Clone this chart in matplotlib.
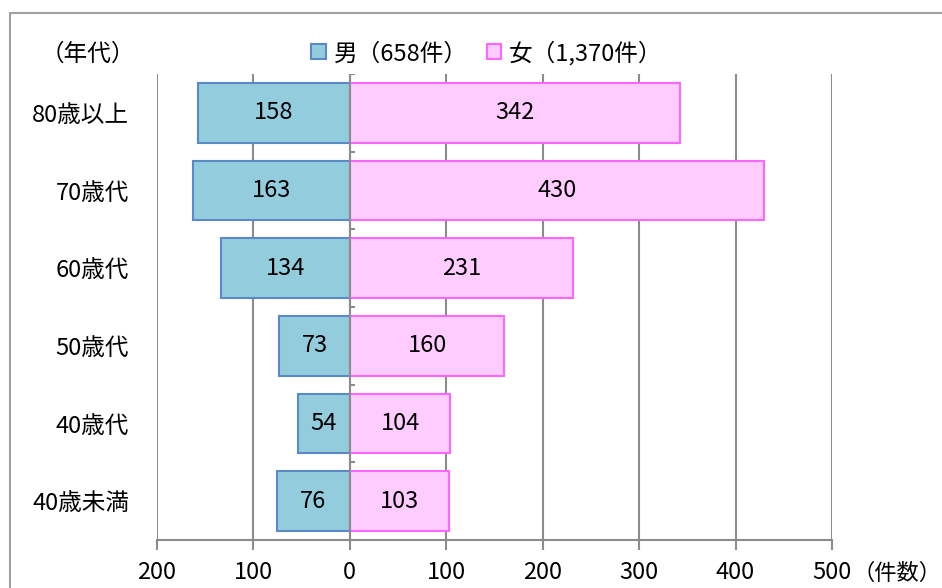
import matplotlib.pyplot as plt
import numpy as np
from matplotlib.patches import Rectangle
from matplotlib.ticker import FuncFormatter

plt.rcParams['font.family'] = ['Noto Sans CJK JP', 'DejaVu Sans']

ages = ['80歳以上', '70歳代', '60歳代', '50歳代', '40歳代', '40歳未満']
male = [158, 163, 134, 73, 54, 76]
female = [342, 430, 231, 160, 104, 103]
male_label = '男（658件）'
female_label = '女（1,370件）'

grid_col = '#8c8c8c'
fs = 17

fig = plt.figure(figsize=(9.42, 5.88), dpi=100)
ax = fig.add_axes([0.1667, 0.0816, 0.7165, 0.7925])

y = np.arange(len(ages))[::-1]
m_bars = ax.barh(y, -np.array(male), height=0.77, color='#93cddd',
                 edgecolor='#5a8ac6', linewidth=1.5, label=male_label, zorder=3)
f_bars = ax.barh(y, female, height=0.77, color='#ffccff',
                 edgecolor='#ff66ff', linewidth=1.5, label=female_label, zorder=3)

for yy, v in zip(y, male):
    ax.text(-v / 2, yy, str(v), ha='center', va='center', fontsize=fs, zorder=4)
for yy, v in zip(y, female):
    ax.text(v / 2, yy, str(v), ha='center', va='center', fontsize=fs, zorder=4)

ax.set_xlim(-200, 500)
ax.set_ylim(-0.5, len(ages) - 0.5)
ax.set_xticks(np.arange(-200, 501, 100))
ax.xaxis.set_major_formatter(FuncFormatter(lambda v, p: f'{abs(int(v))}'))
ax.set_yticks(y)
ax.set_yticklabels(ages)
ax.tick_params(axis='y', length=0, pad=20, labelsize=fs)
ax.tick_params(axis='x', length=7, width=1.5, color=grid_col, pad=8, labelsize=fs)
ax.xaxis.grid(True, color=grid_col, linewidth=1.5, zorder=0)
for s in ['top', 'right', 'left']:
    ax.spines[s].set_visible(False)
ax.spines['bottom'].set_color(grid_col)
ax.spines['bottom'].set_linewidth(1.5)

# center axis with small category ticks
ax.axvline(0, color=grid_col, linewidth=1.5, zorder=5)
bounds = np.arange(len(ages) + 1) - 0.5
ax.hlines(bounds, 0, 5, color=grid_col, linewidth=1.5, zorder=5)

fig.text(88 / 942, 1 - 54 / 588, '（年代）', ha='center', va='center', fontsize=fs)
fig.text(941 / 942, 1 - 573 / 588, '（件数）', ha='right', va='center', fontsize=16)

fig.legend(handles=[m_bars, f_bars], loc='center', bbox_to_anchor=(487 / 942, 1 - 53 / 588),
           ncol=2, frameon=False, fontsize=fs, handlelength=0.6, handleheight=0.6,
           handletextpad=0.35, columnspacing=0.8, borderpad=0.1)

fig.patches.append(Rectangle((10 / 942, -0.5), 2, 1 - 13 / 588 + 0.5, transform=fig.transFigure,
                             fill=False, edgecolor='#a0a0a0', linewidth=1.5))

fig.savefig('out.png', dpi=100)
